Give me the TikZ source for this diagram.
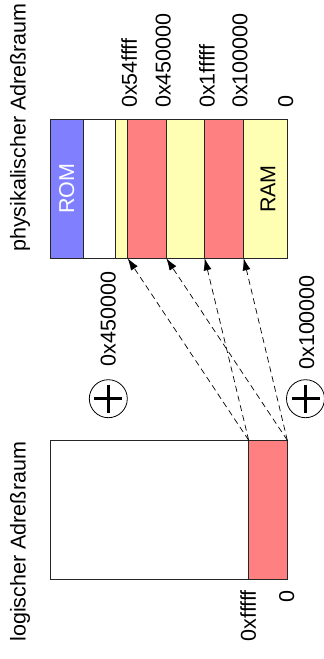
\documentclass[tikz,border=0pt]{standalone}
\usepackage{fontspec}
\setmainfont{Liberation Sans}
\usetikzlibrary{positioning,arrows.meta}

\definecolor{romblue}{HTML}{8080FF}
\definecolor{pagered}{HTML}{FF8080}
\definecolor{ramyellow}{HTML}{FFFFB3}

\begin{document}
\begin{tikzpicture}[x=1pt,y=-1pt]
\tikzset{every node/.style={font=\fontsize{21.5}{26}\selectfont}}
\tikzset{segment/.style={draw=black!85,line width=0.8pt,inner sep=0pt,outer sep=0pt,minimum height=139pt}}
\tikzset{addr/.style={rotate=90,inner sep=0pt}}
\tikzset{mapping/.style={dash pattern=on 6pt off 4pt,line width=0.7pt,-{Latex[length=12pt,width=8pt]}}}
\tikzset{adder/.style={circle,draw,line width=0.8pt,minimum size=38pt,inner sep=0pt,
  path picture={\draw[line width=3.5pt]
    ([xshift=5pt]path picture bounding box.west) -- ([xshift=-5pt]path picture bounding box.east)
    ([yshift=-5pt]path picture bounding box.north) -- ([yshift=5pt]path picture bounding box.south);}}}
\useasboundingbox (0,0) rectangle (324,659);

% physical address space
\node[segment,fill=romblue,minimum width=33.3pt,anchor=north west] (rom) at (50,119.3) {};
\node[segment,fill=white,minimum width=32.4pt,right=0pt of rom] (unused) {};
\node[segment,fill=ramyellow,minimum width=12pt,right=0pt of unused] (ramtop) {};
\node[segment,fill=pagered,minimum width=38.6pt,right=0pt of ramtop] (pagehigh) {};
\node[segment,fill=ramyellow,minimum width=38.4pt,right=0pt of pagehigh] (rammid) {};
\node[segment,fill=pagered,minimum width=39pt,right=0pt of rammid] (pagelow) {};
\node[segment,fill=ramyellow,minimum width=43.6pt,right=0pt of pagelow] (ramlow) {};
\node[addr,text=white] (romtext) at (rom) {ROM};
\node[addr] (ramtext) at (268,189) {RAM};
\node[addr] (physname) at (20,127.5) {physikalischer Adreßraum};

\node[addr,anchor=west] (phys1) at (129.2,108) {0x54ffff};
\node[addr,anchor=west] (phys2) at (163.3,108) {0x450000};
\node[addr,anchor=west] (phys3) at (207,108) {0x1fffff};
\node[addr,anchor=west] (phys4) at (240,108) {0x100000};
\node[addr,anchor=west] (phys5) at (285.8,108) {0};

% logical address space
\node[segment,fill=white,minimum width=198.7pt,anchor=north west] (logfree) at (50,440.3) {};
\node[segment,fill=pagered,minimum width=38.6pt,right=0pt of logfree] (logpage) {};
\node[addr] (logname) at (20,541.7) {logischer Adreßraum};
\node[addr,anchor=east] (log1) at (248.3,590) {0xfffff};
\node[addr,anchor=east] (log2) at (286.7,590) {0};

% offsets
\node[addr,anchor=east] (offhigh) at (108.3,271.7) {0x450000};
\node[addr,anchor=east] (offlow) at (306.7,275) {0x100000};
\node[adder] (addhigh) at (108.3,398.7) {};
\node[adder] (addlow) at (305.5,398.7) {};

\draw[mapping] (logpage.north west) -- (pagehigh.south west);
\draw[mapping] (logpage.north east) -- (pagehigh.south east);
\draw[mapping] (logpage.north west) -- (pagelow.south west);
\draw[mapping] (logpage.north east) -- (pagelow.south east);
\end{tikzpicture}
\end{document}
